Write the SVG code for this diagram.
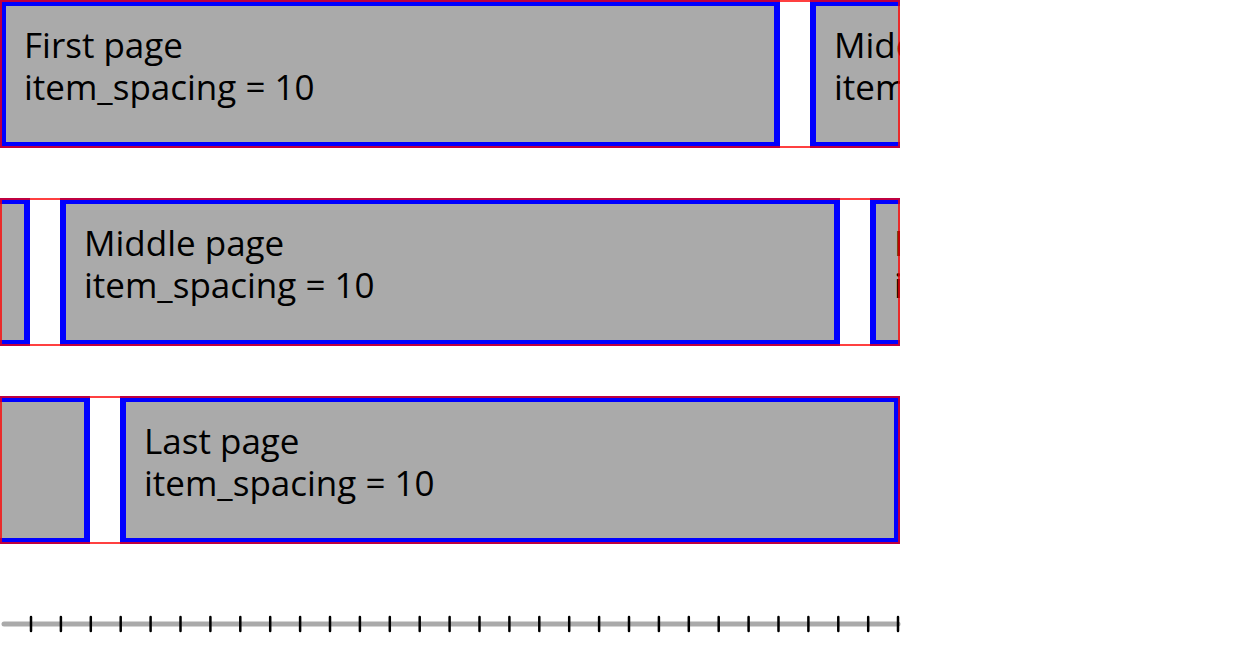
<svg xmlns="http://www.w3.org/2000/svg" width="1242" height="654" viewBox="0 0 1242 654">
<style>
.page{fill:#aaaaaa;stroke:#0000ff;stroke-width:6}
.frame{fill:none;stroke:#ff0000;stroke-opacity:0.75;stroke-width:2}
.lbl{font-family:"Open Sans","Noto Sans",sans-serif;font-size:35px;fill:#000000}
.tick{stroke:#000000;stroke-width:2.5;stroke-linecap:round}
</style>
<defs>
<clipPath id="c1"><rect x="0" y="0" width="900" height="148"/></clipPath>
<clipPath id="c2"><rect x="0" y="198" width="900" height="148"/></clipPath>
<clipPath id="c3"><rect x="0" y="396" width="900" height="148"/></clipPath>
</defs>
<rect width="1242" height="654" fill="#ffffff"/>
<g id="row-first">
<g clip-path="url(#c1)">
<g id="first-page">
<rect class="page" x="3" y="3" width="774" height="142"/>
<text class="lbl" x="24" y="58">First page</text>
<text class="lbl" x="24" y="99.5">item_spacing = 10</text>
</g>
<g id="first-next-page">
<rect class="page" x="813" y="3" width="774" height="142"/>
<text class="lbl" x="834" y="58">Middle page</text>
<text class="lbl" x="834" y="99.5">item_spacing = 10</text>
</g>
</g>
<rect id="frame-first" class="frame" x="1" y="1" width="898" height="146"/>
</g>
<g id="row-middle">
<g clip-path="url(#c2)">
<g id="middle-prev-page">
<rect class="page" x="-747" y="201" width="774" height="142"/>
</g>
<g id="middle-page">
<rect class="page" x="63" y="201" width="774" height="142"/>
<text class="lbl" x="84" y="256">Middle page</text>
<text class="lbl" x="84" y="297.5">item_spacing = 10</text>
</g>
<g id="middle-next-page">
<rect class="page" x="873" y="201" width="774" height="142"/>
<text class="lbl" x="894" y="256">Last page</text>
<text class="lbl" x="894" y="297.5">item_spacing = 10</text>
</g>
</g>
<rect id="frame-middle" class="frame" x="1" y="199" width="898" height="146"/>
</g>
<g id="row-last">
<g clip-path="url(#c3)">
<g id="last-prev-page">
<rect class="page" x="-687" y="399" width="774" height="142"/>
</g>
<g id="last-page">
<rect class="page" x="123" y="399" width="774" height="142"/>
<text class="lbl" x="144" y="454">Last page</text>
<text class="lbl" x="144" y="495.5">item_spacing = 10</text>
</g>
</g>
<rect id="frame-last" class="frame" x="1" y="397" width="898" height="146"/>
</g>
<g id="ruler">
<line x1="4" y1="624" x2="898" y2="624" stroke="#aaaaaa" stroke-width="5" stroke-linecap="round"/>
<line class="tick" x1="31" y1="617" x2="31" y2="631"/>
<line class="tick" x1="60.9" y1="617" x2="60.9" y2="631"/>
<line class="tick" x1="90.8" y1="617" x2="90.8" y2="631"/>
<line class="tick" x1="120.7" y1="617" x2="120.7" y2="631"/>
<line class="tick" x1="150.6" y1="617" x2="150.6" y2="631"/>
<line class="tick" x1="180.5" y1="617" x2="180.5" y2="631"/>
<line class="tick" x1="210.4" y1="617" x2="210.4" y2="631"/>
<line class="tick" x1="240.3" y1="617" x2="240.3" y2="631"/>
<line class="tick" x1="270.2" y1="617" x2="270.2" y2="631"/>
<line class="tick" x1="300.1" y1="617" x2="300.1" y2="631"/>
<line class="tick" x1="330" y1="617" x2="330" y2="631"/>
<line class="tick" x1="359.9" y1="617" x2="359.9" y2="631"/>
<line class="tick" x1="389.8" y1="617" x2="389.8" y2="631"/>
<line class="tick" x1="419.7" y1="617" x2="419.7" y2="631"/>
<line class="tick" x1="449.6" y1="617" x2="449.6" y2="631"/>
<line class="tick" x1="479.5" y1="617" x2="479.5" y2="631"/>
<line class="tick" x1="509.4" y1="617" x2="509.4" y2="631"/>
<line class="tick" x1="539.3" y1="617" x2="539.3" y2="631"/>
<line class="tick" x1="569.2" y1="617" x2="569.2" y2="631"/>
<line class="tick" x1="599.1" y1="617" x2="599.1" y2="631"/>
<line class="tick" x1="629" y1="617" x2="629" y2="631"/>
<line class="tick" x1="658.9" y1="617" x2="658.9" y2="631"/>
<line class="tick" x1="688.8" y1="617" x2="688.8" y2="631"/>
<line class="tick" x1="718.7" y1="617" x2="718.7" y2="631"/>
<line class="tick" x1="748.6" y1="617" x2="748.6" y2="631"/>
<line class="tick" x1="778.5" y1="617" x2="778.5" y2="631"/>
<line class="tick" x1="808.4" y1="617" x2="808.4" y2="631"/>
<line class="tick" x1="838.3" y1="617" x2="838.3" y2="631"/>
<line class="tick" x1="868.2" y1="617" x2="868.2" y2="631"/>
<line class="tick" x1="898" y1="617" x2="898" y2="631"/>
</g>
</svg>
